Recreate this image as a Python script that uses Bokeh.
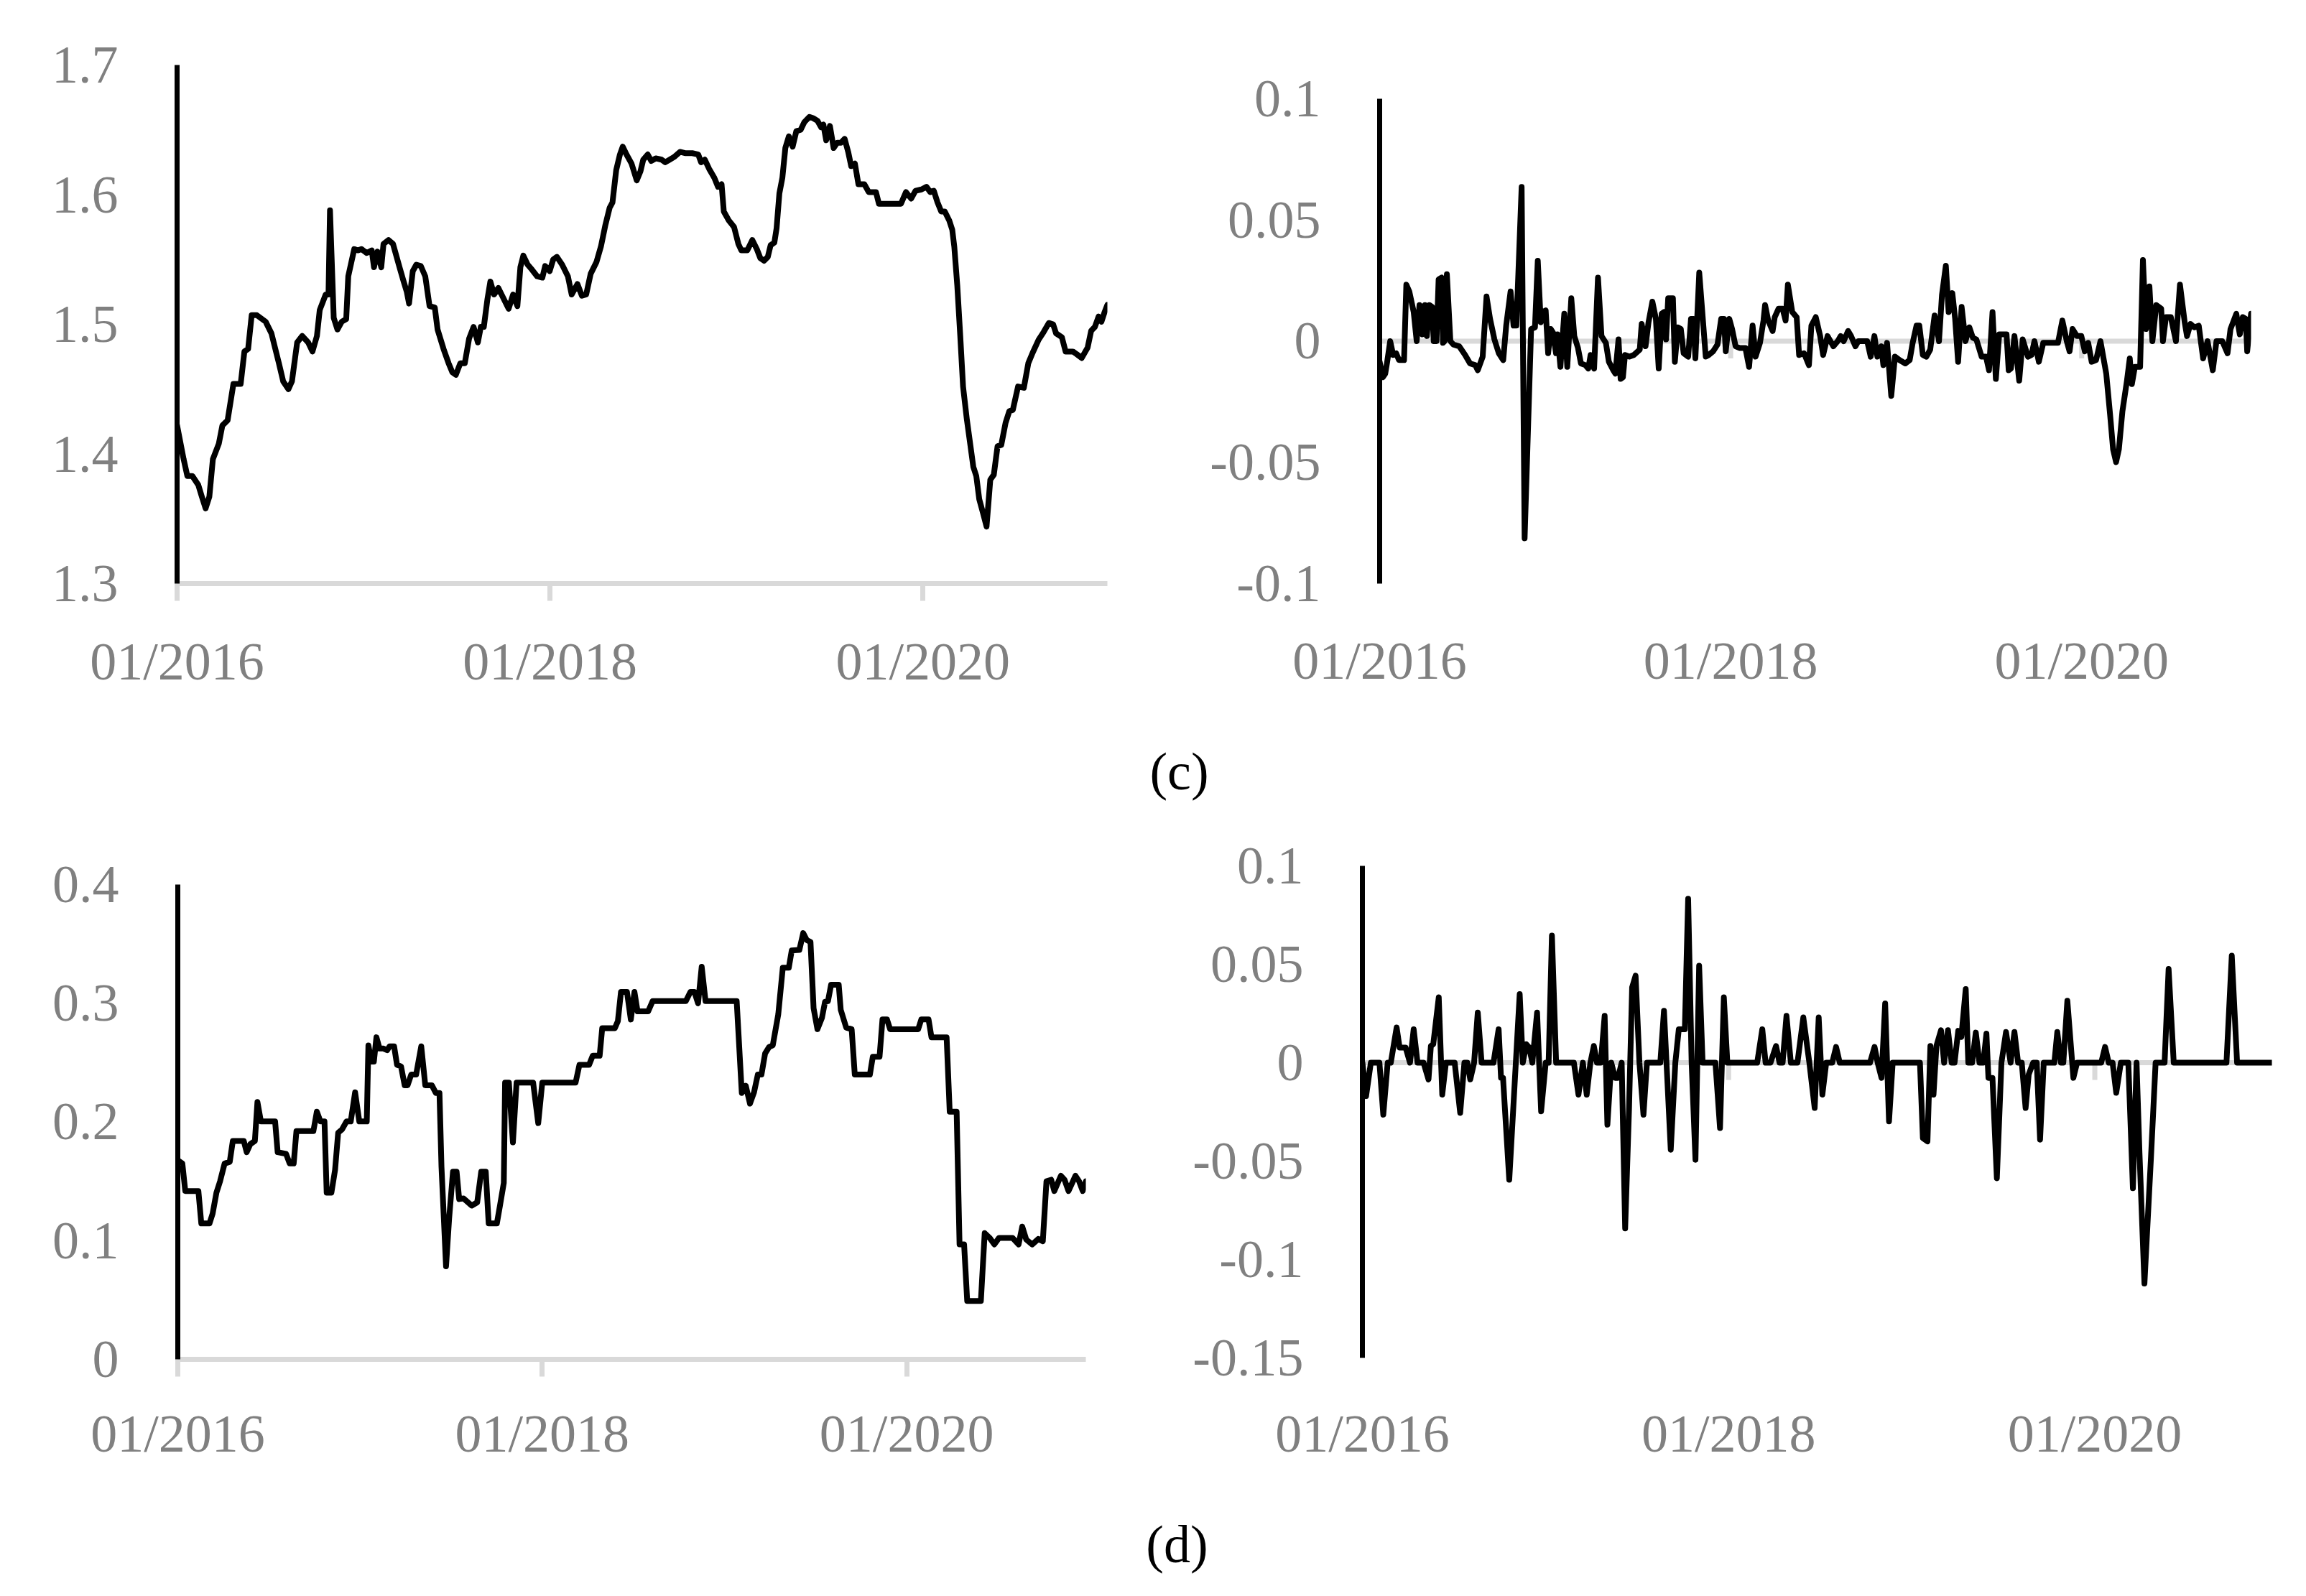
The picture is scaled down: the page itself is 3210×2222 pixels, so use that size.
from bokeh.plotting import figure
from bokeh.layouts import column, row
from bokeh.models import Range1d, FixedTicker, Span, ColumnDataSource
from bokeh.embed import file_html
from bokeh.resources import INLINE
from bokeh.core.properties import value

# ---------------- data (x = years since 01/2016) ----------------
x_ticks = [2016, 2018, 2020]
x_tick_labels = ["01/2016", "01/2018", "01/2020"]

# (c) left: level series
c_level_t = [
    0.000, 0.035, 0.055, 0.082, 0.114, 0.133, 0.153, 0.173, 0.192, 0.224,
    0.243, 0.271, 0.302, 0.341, 0.361, 0.381, 0.400, 0.428, 0.475, 0.506,
    0.546, 0.569, 0.597, 0.616, 0.644, 0.671, 0.703, 0.726, 0.750, 0.765,
    0.797, 0.812, 0.820, 0.840, 0.860, 0.883, 0.907, 0.918, 0.950, 0.969,
    0.989, 1.017, 1.044, 1.056, 1.075, 1.095, 1.107, 1.134, 1.158, 1.193,
    1.213, 1.232, 1.244, 1.264, 1.283, 1.307, 1.331, 1.354, 1.382, 1.397,
    1.429, 1.456, 1.476, 1.495, 1.519, 1.543, 1.566, 1.590, 1.613, 1.629,
    1.645, 1.664, 1.680, 1.700, 1.723, 1.754, 1.778, 1.802, 1.825, 1.841,
    1.857, 1.880, 1.904, 1.931, 1.959, 1.974, 1.998, 2.017, 2.037, 2.065,
    2.096, 2.116, 2.147, 2.171, 2.194, 2.218, 2.249, 2.273, 2.296, 2.320,
    2.335, 2.355, 2.375, 2.390, 2.410, 2.437, 2.465, 2.485, 2.500, 2.524,
    2.543, 2.567, 2.598, 2.618, 2.642, 2.665, 2.697, 2.724, 2.763, 2.795,
    2.810, 2.830, 2.853, 2.881, 2.901, 2.920, 2.932, 2.959, 2.987, 3.010,
    3.026, 3.058, 3.085, 3.109, 3.128, 3.148, 3.168, 3.183, 3.203, 3.215,
    3.230, 3.246, 3.262, 3.281, 3.301, 3.321, 3.344, 3.364, 3.391, 3.411,
    3.434, 3.454, 3.466, 3.481, 3.501, 3.521, 3.540, 3.560, 3.580, 3.599,
    3.615, 3.635, 3.654, 3.686, 3.709, 3.748, 3.764, 3.882, 3.909, 3.937,
    3.960, 3.992, 4.019, 4.039, 4.058, 4.078, 4.098, 4.117, 4.141, 4.157,
    4.168, 4.184, 4.200, 4.215, 4.235, 4.255, 4.270, 4.286, 4.302, 4.321,
    4.341, 4.361, 4.380, 4.400, 4.420, 4.443, 4.463, 4.482, 4.510, 4.541,
    4.565, 4.588, 4.620, 4.647, 4.675, 4.698, 4.714, 4.745, 4.765, 4.804,
    4.824, 4.851, 4.883, 4.902, 4.922, 4.942, 4.957, 4.973, 4.989,
]
c_level = [
    1.422, 1.396, 1.383, 1.383, 1.376, 1.367, 1.358, 1.367, 1.396, 1.408,
    1.422, 1.426, 1.454, 1.454, 1.479, 1.481, 1.507, 1.507, 1.502, 1.493,
    1.470, 1.456, 1.450, 1.456, 1.486, 1.491, 1.486, 1.479, 1.491, 1.511,
    1.523, 1.523, 1.588, 1.505, 1.496, 1.502, 1.504, 1.537, 1.558, 1.557,
    1.558, 1.555, 1.557, 1.544, 1.556, 1.544, 1.562, 1.565, 1.562, 1.544,
    1.534, 1.525, 1.516, 1.541, 1.546, 1.545, 1.537, 1.514, 1.513, 1.496,
    1.481, 1.470, 1.463, 1.461, 1.470, 1.470, 1.489, 1.498, 1.486, 1.498,
    1.498, 1.519, 1.533, 1.523, 1.528, 1.519, 1.512, 1.523, 1.514, 1.544,
    1.553, 1.546, 1.542, 1.537, 1.536, 1.545, 1.541, 1.550, 1.552, 1.546,
    1.537, 1.523, 1.531, 1.522, 1.523, 1.539, 1.548, 1.560, 1.576, 1.590,
    1.594, 1.619, 1.631, 1.637, 1.631, 1.624, 1.611, 1.618, 1.627, 1.631,
    1.626, 1.628, 1.627, 1.625, 1.627, 1.629, 1.633, 1.632, 1.632, 1.631,
    1.625, 1.627, 1.620, 1.613, 1.606, 1.608, 1.587, 1.580, 1.575, 1.562,
    1.557, 1.557, 1.565, 1.558, 1.551, 1.549, 1.552, 1.561, 1.563, 1.574,
    1.601, 1.613, 1.636, 1.645, 1.637, 1.649, 1.650, 1.656, 1.660, 1.659,
    1.657, 1.652, 1.654, 1.642, 1.653, 1.636, 1.640, 1.640, 1.643, 1.633,
    1.622, 1.624, 1.608, 1.608, 1.602, 1.602, 1.593, 1.593, 1.602, 1.597,
    1.603, 1.604, 1.606, 1.602, 1.603, 1.594, 1.587, 1.587, 1.580, 1.573,
    1.560, 1.530, 1.491, 1.452, 1.427, 1.406, 1.390, 1.383, 1.365, 1.355,
    1.344, 1.380, 1.384, 1.406, 1.407, 1.424, 1.433, 1.434, 1.452, 1.451,
    1.470, 1.478, 1.488, 1.494, 1.501, 1.500, 1.493, 1.490, 1.479, 1.479,
    1.477, 1.474, 1.482, 1.495, 1.498, 1.506, 1.502, 1.509, 1.515,
]
c_level_yticks = [1.3, 1.4, 1.5, 1.6, 1.7]
c_level_ylabels = ["1.3", "1.4", "1.5", "1.6", "1.7"]

# (c) right: return series
c_return_t = [
    0.000, 0.018, 0.032, 0.043, 0.060, 0.077, 0.094, 0.110, 0.139, 0.152,
    0.169, 0.194, 0.211, 0.227, 0.244, 0.258, 0.269, 0.283, 0.299, 0.308,
    0.324, 0.336, 0.353, 0.361, 0.370, 0.383, 0.403, 0.420, 0.453, 0.487,
    0.515, 0.545, 0.559, 0.587, 0.609, 0.629, 0.654, 0.679, 0.704, 0.721,
    0.746, 0.763, 0.779, 0.809, 0.826, 0.863, 0.885, 0.901, 0.918, 0.930,
    0.946, 0.960, 0.975, 0.988, 1.005, 1.013, 1.030, 1.052, 1.069, 1.092,
    1.109, 1.130, 1.147, 1.172, 1.189, 1.202, 1.222, 1.244, 1.264, 1.289,
    1.306, 1.331, 1.343, 1.361, 1.373, 1.386, 1.398, 1.423, 1.448, 1.482,
    1.493, 1.515, 1.532, 1.554, 1.574, 1.590, 1.607, 1.620, 1.632, 1.644,
    1.671, 1.682, 1.699, 1.716, 1.732, 1.758, 1.774, 1.788, 1.799, 1.821,
    1.858, 1.875, 1.900, 1.925, 1.946, 1.962, 1.972, 1.992, 2.008, 2.028,
    2.050, 2.084, 2.105, 2.125, 2.142, 2.167, 2.187, 2.196, 2.214, 2.239,
    2.251, 2.273, 2.296, 2.313, 2.326, 2.351, 2.376, 2.390, 2.418, 2.446,
    2.460, 2.485, 2.510, 2.527,
    2.552, 2.585, 2.610, 2.627, 2.644, 2.669,
    2.686, 2.711, 2.727, 2.778, 2.798, 2.819, 2.836, 2.858, 2.870, 2.891,
    2.915, 2.936, 2.962, 2.995, 3.020, 3.037, 3.059, 3.075, 3.095, 3.115,
    3.137, 3.162, 3.187, 3.204, 3.226, 3.242, 3.263, 3.279, 3.296, 3.316,
    3.338, 3.360, 3.380, 3.400, 3.430, 3.455, 3.472, 3.492, 3.511, 3.530,
    3.572, 3.584, 3.597, 3.617, 3.644, 3.664, 3.694, 3.714, 3.731, 3.756,
    3.781, 3.865, 3.890, 3.915, 3.931, 3.948, 3.973, 3.998, 4.018, 4.037,
    4.057, 4.082, 4.107, 4.140, 4.162, 4.179, 4.196, 4.212, 4.232, 4.258,
    4.274, 4.286, 4.303, 4.333, 4.349, 4.366, 4.386, 4.403, 4.425, 4.453,
    4.463, 4.480, 4.508, 4.537, 4.560, 4.587, 4.600, 4.620, 4.642, 4.667,
    4.692, 4.717, 4.747, 4.768, 4.801, 4.831, 4.848, 4.881, 4.901, 4.918,
    4.935, 4.943, 4.965,
]
c_return = [
    -0.0085, -0.0149, -0.0134, -0.0085, 0.0, -0.0057, -0.0050, -0.0078, -0.0078, 0.0233,
    0.0205, 0.0120, 0.0, 0.0149, 0.0028, 0.0149, 0.0021, 0.0149, 0.0141, 0.0,
    0.0, 0.0255, 0.0262, -0.0007, 0.0, 0.0276, 0.0, -0.0014, -0.0021, -0.0057,
    -0.0092, -0.0099, -0.0120, -0.0064, 0.0184, 0.0092, 0.0007, -0.0050, -0.0078, 0.0064,
    0.0205, 0.0064, 0.0064, 0.0636, -0.0813, 0.0050, 0.0057, 0.0332, 0.0078, 0.0120,
    0.0127, -0.0050, 0.0050, 0.0035, -0.0050, 0.0028, -0.0106, 0.0113, -0.0106, 0.0177,
    0.0021, -0.0028, -0.0092, -0.0099, -0.0113, -0.0057, -0.0113, 0.0262, 0.0021, -0.0007,
    -0.0085, -0.0120, -0.0134, 0.0007, -0.0156, -0.0149, -0.0057, -0.0064, -0.0057, -0.0035,
    0.0071, -0.0021, 0.0078, 0.0163, 0.0092, -0.0113, 0.0113, 0.0120, 0.0007, 0.0177,
    0.0177, -0.0085, 0.0057, 0.0050, -0.0050, -0.0064, 0.0092, 0.0092, -0.0071, 0.0283,
    -0.0064, -0.0057, -0.0042, -0.0014, 0.0092, 0.0092, -0.0042, 0.0092, 0.0050, -0.0021,
    -0.0028, -0.0028, -0.0106, 0.0064, -0.0064, -0.0007, 0.0085, 0.0149, 0.0085, 0.0042,
    0.0099, 0.0134, 0.0134, 0.0085, 0.0233, 0.0120, 0.0099, -0.0057, -0.0050, -0.0099,
    0.0064, 0.0099, 0.0021, -0.0057,
    0.0021, -0.0021, 0.0, 0.0021, 0.0, 0.0042,
    0.0021, -0.0021, 0.0, 0.0, -0.0064, 0.0021, -0.0064, -0.0021, -0.0099, -0.0007,
    -0.0226, -0.0064, -0.0078, -0.0092, -0.0078, -0.0007, 0.0064, 0.0064, -0.0057, -0.0064,
    -0.0035, 0.0106, 0.0, 0.0191, 0.0311, 0.0120, 0.0198, 0.0092, -0.0085, 0.0141,
    0.0, 0.0057, 0.0014, 0.0007, -0.0064, -0.0064, -0.0120, 0.0120, -0.0156, 0.0028,
    0.0028, -0.0120, -0.0113, 0.0021, -0.0163, 0.0007, -0.0064, -0.0057, 0.0, -0.0085,
    -0.0007, -0.0007, 0.0085, 0.0, -0.0042, 0.0050, 0.0021, 0.0021, -0.0042, -0.0007,
    -0.0085, -0.0078, 0.0, -0.0134, -0.0304, -0.0446, -0.0499, -0.0446, -0.0290, -0.0163,
    -0.0071, -0.0177, -0.0106, -0.0106, 0.0335, 0.0050, 0.0226, 0.0, 0.0149, 0.0134,
    0.0, 0.0099, 0.0099, 0.0, 0.0233, 0.0078, 0.0021, 0.0071, 0.0057, 0.0064,
    -0.0071, 0.0, -0.0120, 0.0, 0.0, -0.0050, 0.0050, 0.0113, 0.0028, 0.0099,
    0.0092, -0.0042, 0.0113,
]
c_return_yticks = [-0.1, -0.05, 0, 0.05, 0.1]
c_return_ylabels = ["-0.1", "-0.05", "0", "0.05", "0.1"]

# (d) left: level series
d_level_t = [
    0.000, 0.025, 0.041, 0.113, 0.129, 0.174, 0.191, 0.212, 0.232, 0.257,
    0.285, 0.302, 0.362, 0.378, 0.398, 0.423, 0.437, 0.456, 0.534, 0.548,
    0.594, 0.614, 0.636, 0.651, 0.744, 0.763, 0.783, 0.805, 0.817, 0.843,
    0.863, 0.880, 0.901, 0.926, 0.949, 0.973, 0.996, 1.037, 1.046, 1.062,
    1.076, 1.090, 1.107, 1.129, 1.149, 1.162, 1.187, 1.203, 1.225, 1.245,
    1.261, 1.281, 1.308, 1.336, 1.358, 1.394, 1.416, 1.436, 1.447, 1.472,
    1.489, 1.510, 1.530, 1.544, 1.568, 1.613, 1.643, 1.665, 1.690, 1.706,
    1.751, 1.768, 1.789, 1.796, 1.817, 1.839, 1.859, 1.950, 1.978, 2.000,
    2.183, 2.204, 2.257, 2.277, 2.315, 2.329, 2.398, 2.415, 2.432, 2.465,
    2.486, 2.506, 2.523, 2.581, 2.606, 2.788, 2.813, 2.835, 2.855, 2.875,
    2.896, 3.067, 3.095, 3.117, 3.140, 3.162, 3.183, 3.203, 3.223, 3.245,
    3.265, 3.295, 3.320, 3.353, 3.369, 3.411, 3.432, 3.452, 3.472, 3.489,
    3.510, 3.535, 3.552, 3.568, 3.585, 3.627, 3.638, 3.668, 3.698, 3.715,
    3.798, 3.814, 3.851, 3.867, 3.892, 3.909, 4.063, 4.080, 4.120, 4.136,
    4.219, 4.236, 4.274, 4.290, 4.315, 4.332, 4.407, 4.428, 4.456, 4.481,
    4.506, 4.581, 4.614, 4.634, 4.656, 4.689, 4.722, 4.747, 4.767, 4.793,
    4.810, 4.846, 4.866, 4.888, 4.926, 4.946, 4.966, 4.983,
]
d_level = [
    0.1677, 0.1650, 0.1418, 0.1418, 0.1145, 0.1145, 0.1227, 0.1404, 0.1500, 0.1650,
    0.1663, 0.1840, 0.1840, 0.1745, 0.1813, 0.1840, 0.2168, 0.2004, 0.2004, 0.1745,
    0.1731, 0.1650, 0.1650, 0.1922, 0.1922, 0.2086, 0.2004, 0.2004, 0.1404, 0.1404,
    0.1595, 0.1909, 0.1936, 0.2004, 0.2004, 0.2249, 0.2004, 0.2004, 0.2645, 0.2508,
    0.2508, 0.2713, 0.2618, 0.2618, 0.2604, 0.2637, 0.2637, 0.2481, 0.2468, 0.2309,
    0.2309, 0.2399, 0.2399, 0.2637, 0.2309, 0.2309, 0.2244, 0.2244, 0.1622, 0.0783,
    0.1186, 0.1581, 0.1581, 0.1350, 0.1355, 0.1295, 0.1322, 0.1581, 0.1581, 0.1145,
    0.1145, 0.1295, 0.1486, 0.2331, 0.2331, 0.1827, 0.2331, 0.2331, 0.1990, 0.2331,
    0.2331, 0.2481, 0.2481, 0.2558, 0.2558, 0.2789, 0.2789, 0.2849, 0.3095, 0.3095,
    0.2863, 0.3095, 0.2931, 0.2931, 0.3018, 0.3018, 0.3095, 0.3095, 0.2999, 0.3307,
    0.3018, 0.3018, 0.2244, 0.2304, 0.2154, 0.2249, 0.2399, 0.2399, 0.2577, 0.2631,
    0.2645, 0.2904, 0.3299, 0.3299, 0.3444, 0.3449, 0.3591, 0.3531, 0.3517, 0.2958,
    0.2781, 0.2877, 0.3013, 0.3018, 0.3155, 0.3155, 0.2945, 0.2795, 0.2781, 0.2399,
    0.2399, 0.2549, 0.2549, 0.2863, 0.2863, 0.2781, 0.2781, 0.2863, 0.2863, 0.2713,
    0.2713, 0.2086, 0.2086, 0.0968, 0.0968, 0.0491, 0.0491, 0.1063, 0.1022, 0.0968,
    0.1022, 0.1022, 0.0968, 0.1118, 0.1009, 0.0968, 0.1014, 0.0995, 0.1500, 0.1513,
    0.1418, 0.1546, 0.1513, 0.1418, 0.1546, 0.1500, 0.1418, 0.1500,
]
d_level_yticks = [0, 0.1, 0.2, 0.3, 0.4]
d_level_ylabels = ["0", "0.1", "0.2", "0.3", "0.4"]

# (d) right: return series
d_return_t = [
    0.000, 0.020, 0.046, 0.073, 0.093, 0.114, 0.138, 0.155, 0.187, 0.203,
    0.236, 0.260, 0.280, 0.301, 0.334, 0.361, 0.374, 0.387, 0.417, 0.436,
    0.456, 0.504, 0.534, 0.557, 0.573, 0.589, 0.610, 0.630, 0.651, 0.716,
    0.744, 0.757, 0.768, 0.802, 0.859, 0.876, 0.895, 0.911, 0.928, 0.954,
    0.976, 1.001, 1.017, 1.035, 1.058, 1.155, 1.180, 1.204, 1.225, 1.245,
    1.264, 1.281, 1.302, 1.323, 1.338, 1.359, 1.380, 1.396, 1.416, 1.435,
    1.456, 1.473, 1.492, 1.513, 1.535, 1.554, 1.627, 1.647, 1.684, 1.709,
    1.728, 1.761, 1.779, 1.798, 1.819, 1.839, 1.858, 1.928, 1.953, 1.974,
    1.993, 2.156, 2.184, 2.202, 2.229, 2.259, 2.278, 2.295, 2.316, 2.340,
    2.376, 2.408, 2.441, 2.470,
    2.492, 2.512, 2.533, 2.566, 2.587, 2.607,
    2.772, 2.797, 2.814, 2.835, 2.855, 2.876, 2.896, 3.045, 3.061, 3.086,
    3.102, 3.119, 3.135, 3.160, 3.177, 3.198, 3.218, 3.234, 3.254, 3.271,
    3.295, 3.309, 3.330, 3.350, 3.370, 3.391, 3.408, 3.419, 3.441, 3.465,
    3.490, 3.515, 3.540, 3.561, 3.581, 3.601, 3.622, 3.639, 3.663, 3.683,
    3.701, 3.721, 3.779, 3.795, 3.815, 3.828, 3.850, 3.883, 3.903, 4.035,
    4.056, 4.076, 4.097, 4.117, 4.142, 4.183, 4.208, 4.228, 4.244, 4.271,
    4.307, 4.332, 4.381, 4.403, 4.431, 4.719, 4.748, 4.777, 4.967,
]
d_return = [
    0.0, -0.0170, 0.0, 0.0, 0.0, -0.0264, 0.0, 0.0, 0.0179, 0.0077,
    0.0077, 0.0, 0.0170, 0.0, 0.0, -0.0085, 0.0085, 0.0094, 0.0332, -0.0162,
    0.0, 0.0, -0.0255, 0.0, 0.0, -0.0085, 0.0, 0.0255, 0.0, 0.0,
    0.0170, -0.0077, -0.0077, -0.0595, 0.0349, 0.0, 0.0094, 0.0077, 0.0, 0.0255,
    -0.0247, 0.0, 0.0, 0.0646, 0.0, 0.0, -0.0162, 0.0, -0.0162, 0.0,
    0.0085, 0.0, 0.0, 0.0238, -0.0315, 0.0, -0.0077, -0.0077, 0.0, -0.0842,
    -0.0238, 0.0383, 0.0442, 0.0, -0.0264, 0.0, 0.0, 0.0264, -0.0442, 0.0,
    0.0170, 0.0170, 0.0833, 0.0, -0.0493, 0.0493, 0.0, 0.0, -0.0332, 0.0332,
    0.0, 0.0, 0.0170, 0.0, 0.0, 0.0085, 0.0, 0.0, 0.0238, 0.0,
    0.0, 0.0230, 0.0, -0.0230,
    0.0230, -0.0162, 0.0, 0.0, 0.0080, 0.0,
    0.0, 0.0080, 0.0, -0.0077, 0.0301, -0.0298, 0.0, 0.0, -0.0383, -0.0400,
    0.0085, -0.0162, 0.0085, 0.0165, 0.0, 0.0165, 0.0, 0.0, 0.0162, 0.0131,
    0.0374, 0.0, 0.0, 0.0153, 0.0, 0.0, 0.0148, -0.0077, -0.0077, -0.0587,
    0.0, 0.0156, 0.0, 0.0156, 0.0, 0.0, -0.0230, -0.0060, 0.0, 0.0,
    -0.0391, 0.0, 0.0, 0.0156, 0.0, 0.0, 0.0315, -0.0077, 0.0, 0.0,
    0.0080, 0.0, 0.0, -0.0153, 0.0, 0.0, -0.0638, 0.0, -0.0459, -0.1122,
    -0.0476, 0.0, 0.0, 0.0476, 0.0, 0.0, 0.0544, 0.0, 0.0,
]
d_return_yticks = [-0.15, -0.1, -0.05, 0, 0.05, 0.1]
d_return_ylabels = ["-0.15", "-0.1", "-0.05", "0", "0.05", "0.1"]

captions = ["(c)", "(d)"]

# ---------------- styling ----------------
FONT = "Liberation Serif"
FS = "74px"
TXT = "#808080"
GRID = "#d9d9d9"
AXW = 7
TICK_PX = 24


def panel(t, v, y0, y1, bounds, yticks, ylabels, width, height, left, top,
          fw, fh, zero_axis, x_standoff):
    p = figure(width=width, height=height,
               x_range=Range1d(2016, 2016 + t[-1]), y_range=Range1d(y0, y1),
               output_backend="svg", toolbar_location=None,
               min_border_left=left, min_border_top=top,
               min_border_right=width - left - fw,
               min_border_bottom=height - top - fh)
    p.outline_line_color = None
    p.xgrid.visible = False
    p.ygrid.visible = False
    p.background_fill_color = "white"
    p.border_fill_color = "white"

    if zero_axis:
        p.add_layout(Span(location=0, dimension="width", line_color=GRID,
                          line_width=AXW, level="underlay"))
        tick_len = TICK_PX * (y1 - y0) / fh
        p.segment(x0=x_ticks, y0=[0] * len(x_ticks), x1=x_ticks,
                  y1=[-tick_len] * len(x_ticks), line_color=GRID, line_width=AXW)

    src = ColumnDataSource(dict(x=[2016 + a for a in t], y=v))
    p.line("x", "y", source=src, line_color="black", line_width=8,
           line_join="round", line_cap="round")

    xa = p.xaxis[0]
    xa.ticker = FixedTicker(ticks=x_ticks)
    xa.major_label_overrides = dict(zip(x_ticks, x_tick_labels))
    xa.major_label_text_font = FONT
    xa.major_label_text_font_size = FS
    xa.major_label_text_color = TXT
    xa.minor_tick_line_color = None
    xa.major_tick_in = 0
    if zero_axis:
        xa.axis_line_color = None
        xa.major_tick_line_color = None
        xa.major_tick_out = 0
    else:
        xa.axis_line_color = GRID
        xa.axis_line_width = AXW
        xa.major_tick_line_color = GRID
        xa.major_tick_line_width = AXW
        xa.major_tick_out = TICK_PX
    xa.major_label_standoff = x_standoff

    ya = p.yaxis[0]
    ya.ticker = FixedTicker(ticks=yticks)
    ya.bounds = bounds
    ya.major_label_overrides = dict(zip(yticks, ylabels))
    ya.major_label_text_font = FONT
    ya.major_label_text_font_size = FS
    ya.major_label_text_color = TXT
    ya.axis_line_color = "black"
    ya.axis_line_width = AXW
    ya.major_tick_line_color = None
    ya.minor_tick_line_color = None
    ya.major_tick_out = 0
    ya.major_tick_in = 0
    ya.major_label_standoff = 82
    return p


def caption(label, width, height, cx, cy):
    p = figure(width=width, height=height, x_range=Range1d(0, width),
               y_range=Range1d(0, height), output_backend="svg",
               toolbar_location=None, min_border=0,
               x_axis_type=None, y_axis_type=None)
    p.outline_line_color = None
    p.text(x=[cx], y=[height - cy], text=[label], text_font=value(FONT),
           text_font_size=value(FS), text_color="black",
           text_align="center", text_baseline="middle")
    return p


# row 1: frames share top 90 / bottom 812 (row alignment); row 2: 1205 / 1892
pA = panel(c_level_t, c_level, 1.3, 1.7, (1.3, 1.7),
           c_level_yticks, c_level_ylabels,
           1660, 1000, 246, 90, 1295, 722, False, 43)
pB = panel(c_return_t, c_return, -0.1, 0.1139, (-0.1, 0.1),
           c_return_yticks, c_return_ylabels,
           1530, 1000, 260, 90, 1213, 722, True, 66)
pC = panel(d_level_t, d_level, 0.0, 0.4157, (0.0, 0.4),
           d_level_yticks, d_level_ylabels,
           1640, 940, 247, 75, 1264, 687, False, 38)
pD = panel(d_return_t, d_return, -0.1507, 0.1, (-0.15, 0.1),
           d_return_yticks, d_return_ylabels,
           1550, 940, 256, 75, 1266, 687, True, 62)

capC = caption(captions[0], 3190, 130, 1641, 73)
capD = caption(captions[1], 3190, 130, 1638, 79)

layout = column(row(pA, pB), capC, row(pC, pD), capD)

open("out.html", "w").write(file_html(layout, INLINE))
